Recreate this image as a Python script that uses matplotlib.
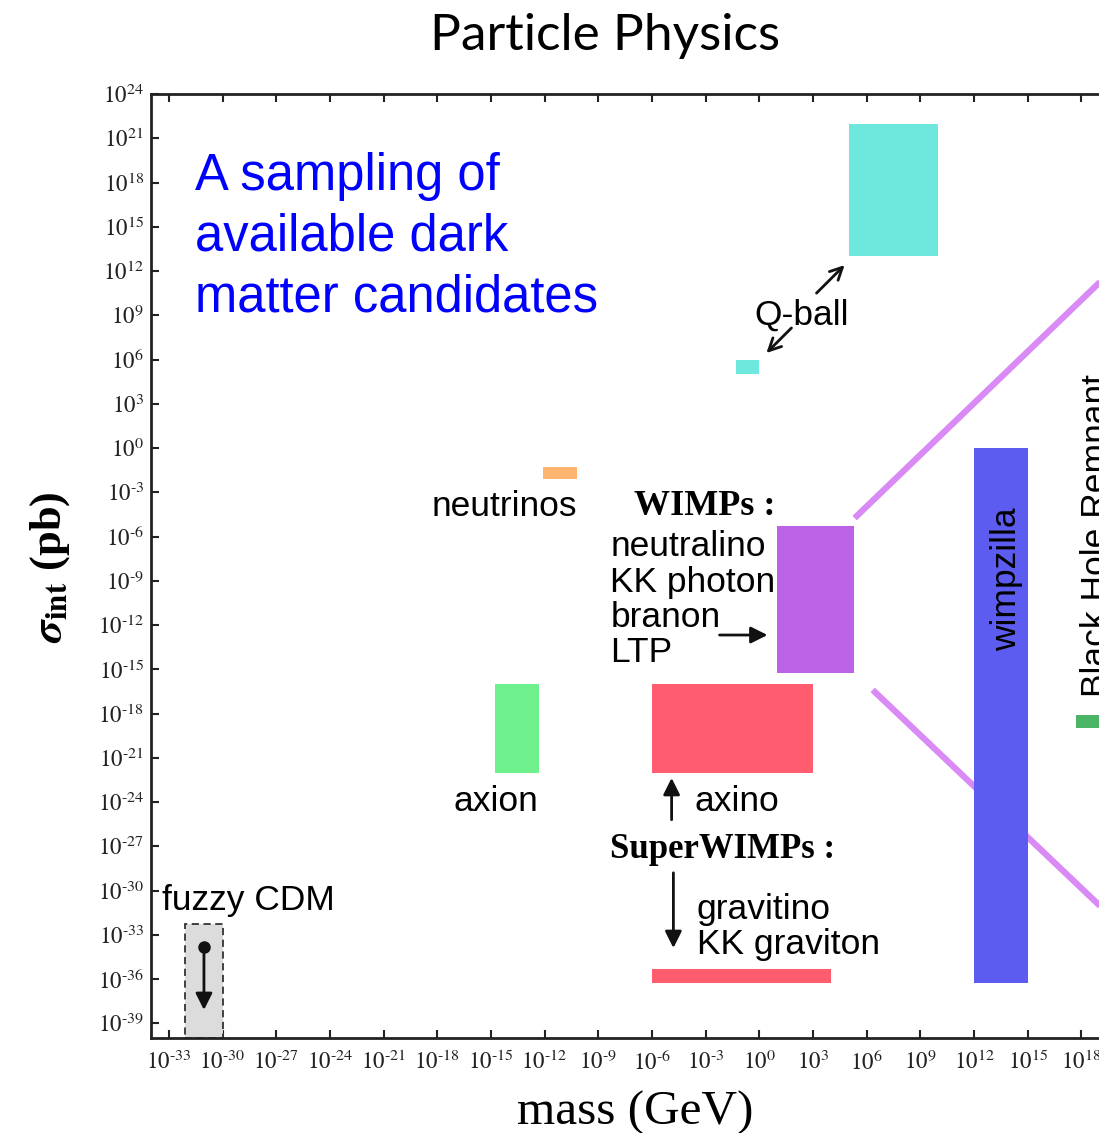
import numpy as np
import matplotlib
matplotlib.use('Agg')
import matplotlib.pyplot as plt
from matplotlib.ticker import FixedLocator, FixedFormatter

plt.rcParams['mathtext.fontset'] = 'stix'

# candidate regions, in log10 units (mass in GeV, sigma in pb)
candidates = ['Q-ball', 'Q-ball small', 'neutrinos', 'WIMPs', 'axion', 'axino',
              'gravitino', 'wimpzilla', 'Black Hole Remnant', 'fuzzy CDM']
mass_lo = [5.0, -1.3, -12.1, 1.0, -14.75, -6.0, -6.0, 12.0, 17.7, -32.1]
mass_hi = [10.0, 0.0, -10.2, 5.3, -12.3, 3.0, 4.0, 15.0, 19.5, -30.0]
sigma_lo = [13.0, 5.0, -2.1, -15.25, -22.0, -22.0, -36.3, -36.3, -19.0, -40.0]
sigma_hi = [22.0, 6.0, -1.3, -5.3, -16.0, -16.0, -35.3, 0.0, -18.1, -32.3]
box_colors = ['#6ee8dc', '#6ee8dc', '#ffb470', '#bb62e6', '#6ef08c', '#ff5c70',
              '#ff5c70', '#5c5cf0', '#4cb466', '#dcdcdc']

x_ticks = np.arange(-33, 22, 3)
y_ticks = np.arange(-39, 25, 3)


def sci(v):
    # plain hyphen instead of the wide math minus, like the original labels
    if v < 0:
        return r'$10^{\text{-}%d}$' % (-v)
    return r'$10^{%d}$' % v


W, H = 1099, 1133
fig = plt.figure(figsize=(W / 100, H / 100), dpi=100)
x0, x1 = -34, 22
ax = fig.add_axes([151 / W, 95 / H, (170 + (x1 + 33) * 17.87 - 151) / W, 944 / H])
ax.set_xscale('log')
ax.set_yscale('log')
ax.set_xlim(10.0 ** x0, 10.0 ** x1)
ax.set_ylim(1e-40, 1e24)

for i, name in enumerate(candidates):
    lo, hi = 10.0 ** mass_lo[i], 10.0 ** mass_hi[i]
    blo, bhi = 10.0 ** sigma_lo[i], 10.0 ** sigma_hi[i]
    if name == 'fuzzy CDM':
        ax.bar(lo, bhi - blo, width=hi - lo, bottom=blo, align='edge',
               color=box_colors[i], edgecolor='#333333', linestyle=(0, (4, 2.5)),
               linewidth=1.3, zorder=2)
    else:
        ax.bar(lo, bhi - blo, width=hi - lo, bottom=blo, align='edge',
               color=box_colors[i], linewidth=0, zorder=2)

# zoom lines to the (cropped) right panel
ax.plot([10 ** 5.33, 10 ** 22], [10 ** -4.75, 10 ** 14.7], color='#d98af5', lw=4.5, zorder=1,
        solid_capstyle='butt')
ax.plot([10 ** 6.34, 10 ** 22], [10 ** -16.4, 10 ** -34.45], color='#d98af5', lw=4.5, zorder=1,
        solid_capstyle='butt')

ax.xaxis.set_major_locator(FixedLocator(10.0 ** x_ticks))
ax.xaxis.set_major_formatter(FixedFormatter([sci(v) for v in x_ticks]))
ax.yaxis.set_major_locator(FixedLocator(10.0 ** y_ticks))
ax.yaxis.set_major_formatter(FixedFormatter([sci(v) for v in y_ticks]))
ax.minorticks_off()
ax.tick_params(axis='both', which='major', direction='in', length=6, width=1.5,
               labelsize=16.5, top=True, right=False, colors='#222222')
ax.tick_params(axis='x', pad=9)
ax.tick_params(axis='y', pad=5)
for s in ax.spines.values():
    s.set_linewidth(2)
    s.set_color('#222222')

sans = 'Liberation Sans'
fs = 25.5


def L(e):
    return 10.0 ** e


def tx(x, y, s, **kw):
    kw.setdefault('family', sans)
    kw.setdefault('fontsize', fs)
    kw.setdefault('va', 'center')
    ax.text(L(x), L(y), s, **kw)


tx(2.37, 9.0, 'Q-ball', ha='center')
tx(-14.25, -3.95, 'neutrinos', ha='center')
tx(-6.98, -3.95, 'WIMPs :', ha='left', family='Liberation Serif', fontweight='bold', fontsize=26)
tx(-8.32, -6.65, 'neutralino', ha='left')
tx(-8.32, -9.1, 'KK photon', ha='left')
tx(-8.32, -11.47, 'branon', ha='left')
tx(-8.32, -13.84, 'LTP', ha='left')
tx(-14.7, -23.95, 'axion', ha='center')
tx(-3.6, -23.95, 'axino', ha='left')
tx(-8.32, -27.2, 'SuperWIMPs :', ha='left', family='Liberation Serif', fontweight='bold', fontsize=25)
tx(-3.5, -31.3, 'gravitino', ha='left')
tx(-3.5, -33.65, 'KK graviton', ha='left')
tx(-33.39, -30.7, 'fuzzy CDM', ha='left')
tx(13.85, -8.9, 'wimpzilla', ha='center', rotation=90)
tx(17.9, -16.9, 'Black Hole Remnant', ha='left', va='bottom', rotation=90)

open_arrow = dict(arrowstyle='->', color='#111111', lw=2, mutation_scale=22,
                  shrinkA=0, shrinkB=0)
solid_arrow = dict(arrowstyle='-|>', color='#111111', lw=2, mutation_scale=25,
                   shrinkA=0, shrinkB=0)
ax.annotate('', xy=(L(4.77), L(12.4)), xytext=(L(3.2), L(10.5)), arrowprops=open_arrow)
ax.annotate('', xy=(L(0.4), L(6.44)), xytext=(L(1.8), L(8.14)), arrowprops=open_arrow)
ax.annotate('', xy=(L(0.46), L(-12.68)), xytext=(L(-2.22), L(-12.68)), arrowprops=solid_arrow)
ax.annotate('', xy=(L(-4.9), L(-22.37)), xytext=(L(-4.9), L(-25.2)), arrowprops=solid_arrow)
ax.annotate('', xy=(L(-4.8), L(-33.9)), xytext=(L(-4.8), L(-28.8)), arrowprops=solid_arrow)
ax.annotate('', xy=(L(-31.04), L(-38.1)), xytext=(L(-31.04), L(-33.83)), arrowprops=solid_arrow)
ax.plot(L(-31.04), L(-33.83), 'o', color='#111111', ms=8, zorder=5)

# blue caption
for k, line in enumerate(['A sampling of', 'available dark', 'matter candidates']):
    fig.text(195 / W, 1 - (190 + 60.5 * k) / H, line, color='#0000ff', family=sans,
             fontsize=36.5, ha='left', va='baseline')

fig.text(605 / W, 1 - 36 / H, 'Particle Physics', family='Lato', fontsize=37,
         ha='center', va='center')
fig.text(50 / W, 1 - 567 / H, r'$\boldsymbol{\sigma}_{\mathbf{int}}$ (pb)',
         family='Liberation Serif', fontweight='bold', fontsize=32, rotation=90,
         ha='center', va='center')
fig.text(635 / W, 1 - 1125 / H, 'mass (GeV)', family='Liberation Serif', fontsize=35.5,
         ha='center', va='baseline')

fig.savefig('out.png', dpi=100)
